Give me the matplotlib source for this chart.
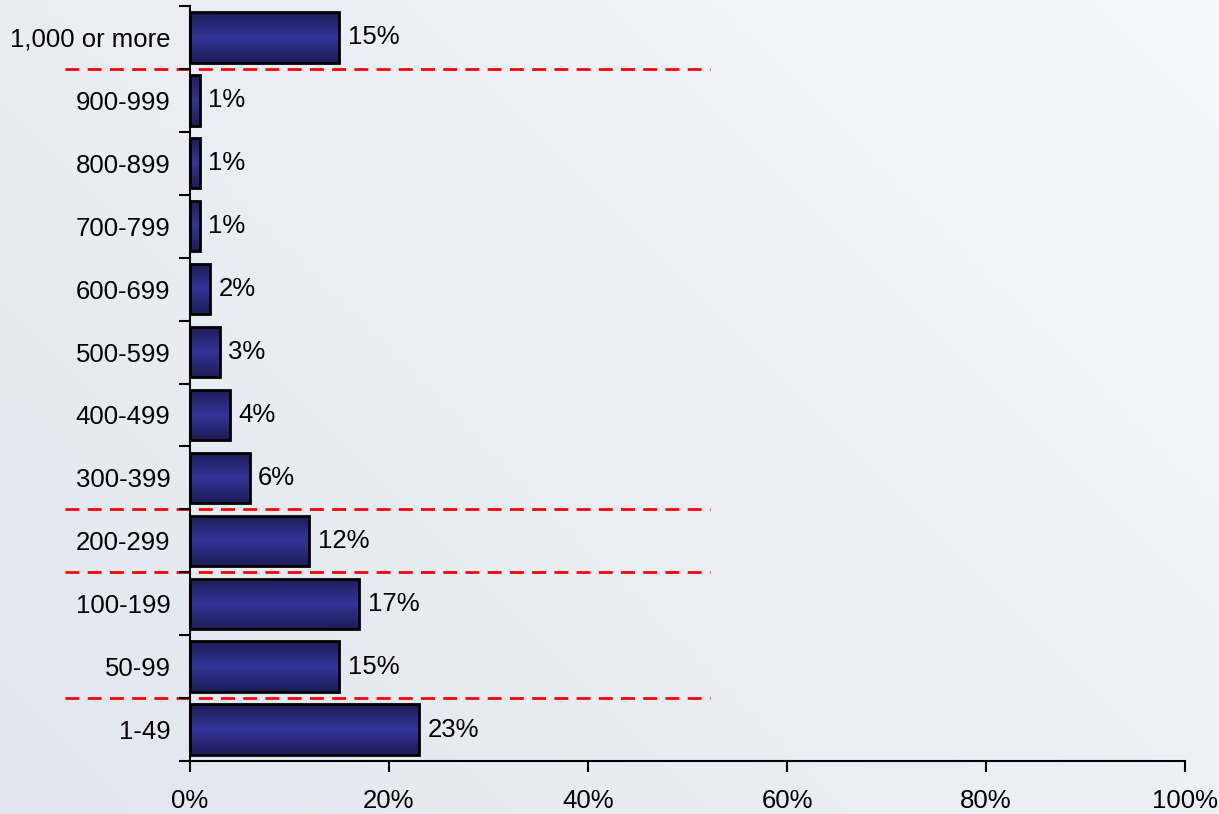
import numpy as np
import matplotlib.pyplot as plt
from matplotlib.colors import LinearSegmentedColormap

categories = ['1-49', '50-99', '100-199', '200-299', '300-399', '400-499',
              '500-599', '600-699', '700-799', '800-899', '900-999', '1,000 or more']
shares = [23, 15, 17, 12, 6, 4, 3, 2, 1, 1, 1, 15]
# group separators sit between these category positions
separators = [0.5, 2.5, 3.5, 10.5]

plt.rcParams['font.family'] = ['Liberation Sans', 'DejaVu Sans']

fig = plt.figure(figsize=(12.19, 8.14), dpi=100)

# pale blue backdrop, a little darker towards the lower left
bg = fig.add_axes([0, 0, 1, 1], zorder=-10)
gx, gy = np.meshgrid(np.linspace(0, 1, 200), np.linspace(0, 1, 200))
shade = np.clip(0.6 * (1 - gx) + 0.4 * gy, 0, 1)
bg_cmap = LinearSegmentedColormap.from_list('bg', ['#f5f7fb', '#e1e7ef'])
bg.imshow(shade, cmap=bg_cmap, aspect='auto', extent=[0, 1, 0, 1], origin='upper')
bg.axis('off')

ax = fig.add_axes([190 / 1219, 53 / 814, 995 / 1219, 755 / 814])
ax.patch.set_alpha(0)

y = np.arange(len(categories))
bars = ax.barh(y, shares, height=0.8, color='none', edgecolor='black',
               linewidth=2, zorder=3)

# navy fill, lighter through the middle of each bar
bar_cmap = LinearSegmentedColormap.from_list('bar', ['#1c1c55', '#34349a', '#1c1c55'])
grad = np.linspace(0, 1, 64).reshape(-1, 1)
for b in bars:
    x0, y0 = b.get_x(), b.get_y()
    im = ax.imshow(grad, cmap=bar_cmap, aspect='auto', zorder=2,
                   extent=[x0, x0 + b.get_width(), y0, y0 + b.get_height()])
    im.set_clip_path(b)

for yi, v in zip(y, shares):
    ax.text(v + 0.85, yi, f'{v}%', va='center', ha='left', fontsize=18.5, zorder=4)

for s in separators:
    ax.plot([-12.6, 52.3], [s, s], color='#ff0000', lw=2, ls=(0, (5, 3)),
            clip_on=False, zorder=1)

ax.set_xlim(0, 100)
ax.set_ylim(-0.5, len(categories) - 0.5)
ax.set_xticks(np.arange(0, 101, 20))
ax.set_xticklabels([f'{t}%' for t in range(0, 101, 20)])
ax.set_yticks(y)
ax.set_yticklabels(categories)
ax.set_yticks(np.arange(-0.5, len(categories)), minor=True)
ax.tick_params(axis='y', which='major', length=0, pad=14, labelsize=18.5)
ax.tick_params(axis='y', which='minor', length=8, width=1.5)
ax.tick_params(axis='x', length=8, width=1.5, pad=12, labelsize=18.5)

for side in ['top', 'right']:
    ax.spines[side].set_visible(False)
for side in ['left', 'bottom']:
    ax.spines[side].set_linewidth(1.5)

fig.savefig('out.png', dpi=100)
